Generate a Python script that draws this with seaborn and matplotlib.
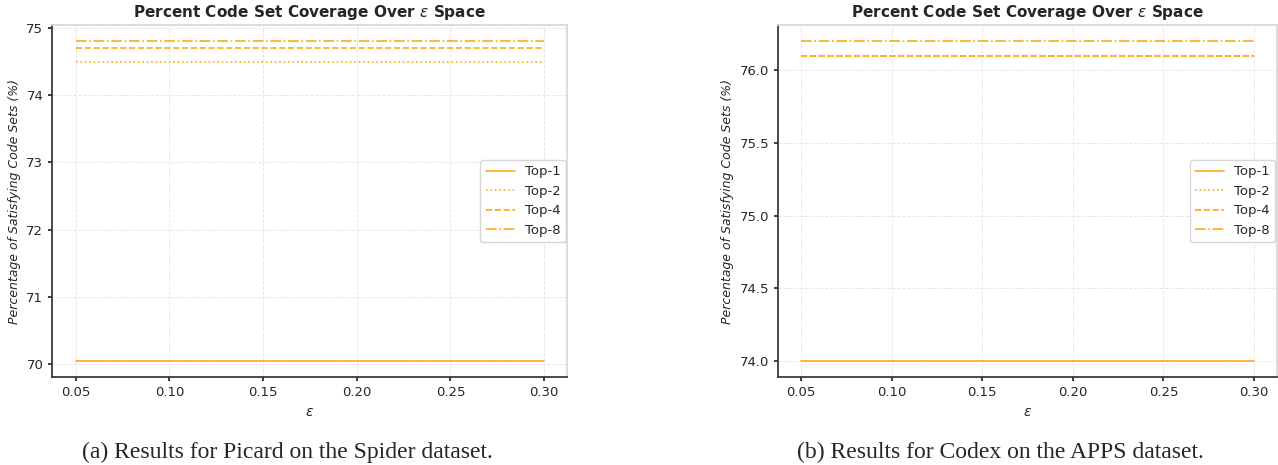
import matplotlib
matplotlib.use("Agg")
import matplotlib.pyplot as plt
import numpy as np
import pandas as pd
import seaborn as sns

eps = [0.05, 0.10, 0.15, 0.20, 0.25, 0.30]
series_names = ["Top-1", "Top-2", "Top-4", "Top-8"]
linestyles = ["-", ":", "--", "-."]

# Picard on Spider
spider_vals = {
    "Top-1": [70.05] * 6,
    "Top-2": [74.49] * 6,
    "Top-4": [74.70] * 6,
    "Top-8": [74.80] * 6,
}
# Codex on APPS
apps_vals = {
    "Top-1": [74.0] * 6,
    "Top-2": [76.1] * 6,
    "Top-4": [76.1] * 6,
    "Top-8": [76.2] * 6,
}

captions = ["(a) Results for Picard on the Spider dataset.",
            "(b) Results for Codex on the APPS dataset."]

sns.set_theme(style="white")
plt.rcParams["font.family"] = ["DejaVu Sans"]

fig = plt.figure(figsize=(12.78, 4.65), dpi=100)
ax_l = fig.add_axes([0.041, 0.189, 0.403, 0.757])
ax_r = fig.add_axes([0.609, 0.189, 0.390, 0.757])

for ax, vals, cap, cx in [(ax_l, spider_vals, captions[0], 0.225),
                          (ax_r, apps_vals, captions[1], 0.783)]:
    for name, ls in zip(series_names, linestyles):
        sns.lineplot(x=eps, y=vals[name], ax=ax, color="#FFA000", alpha=0.9,
                     linestyle=ls, linewidth=1.2, label=name)
    ax.set_title(r"Percent Code Set Coverage Over $\varepsilon$ Space",
                 fontsize=11, fontweight="bold")
    ax.set_xlabel(r"$\varepsilon$", fontsize=10)
    ax.set_ylabel("Percentage of Satisfying Code Sets (%)", fontsize=9, style="italic")
    ax.set_xticks(eps)
    ax.tick_params(axis="both", labelsize=9.5, length=3, left=True, bottom=True)
    ax.grid(True, linestyle="--", color="#e0e0e0", linewidth=0.7, alpha=0.8)
    for s in ["top", "right"]:
        ax.spines[s].set_color("#d8d8d8")
    for s in ["left", "bottom"]:
        ax.spines[s].set_color("#333333")
    ax.legend(loc="center right", fontsize=9.5, frameon=True, handlelength=2.2,
              borderaxespad=0.1)
    fig.text(cx, 0.028, cap, ha="center", va="center", fontsize=17,
             family="Liberation Serif")

fig.savefig("out.png", dpi=100)
